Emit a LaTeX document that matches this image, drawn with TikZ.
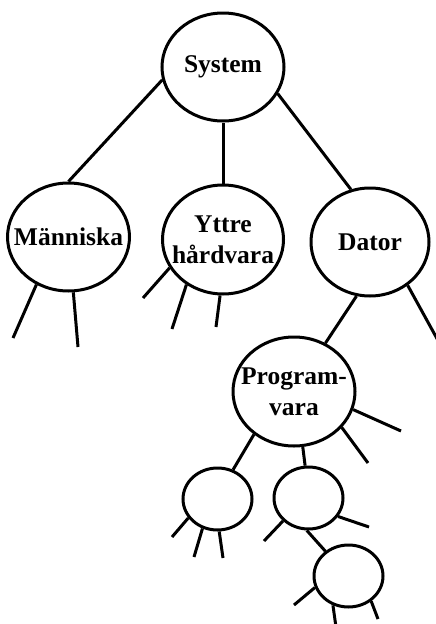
\documentclass[tikz,border=0pt]{standalone}
\usepackage{fontspec}
\setmainfont{Liberation Serif}
\usetikzlibrary{shapes.geometric}
\begin{document}
\begin{tikzpicture}[x=1pt,y=-1pt,line width=3pt,
  big/.style={draw,ellipse,inner sep=0pt,minimum width=122pt,minimum height=108pt},
  txt/.style={font=\fontsize{25.5}{31}\selectfont\bfseries,align=center,inner sep=0pt},
  small/.style={draw,ellipse,inner sep=0pt,minimum width=69pt,minimum height=62pt},
  link/.style={line cap=butt}]
\useasboundingbox (0,0) rectangle (436,624);
\clip (0,0) rectangle (436,624);
\node[big] (sys) at (223,67) {};
\node[big] (mann) at (68.5,237) {};
\node[big,minimum width=121pt,minimum height=109pt] (yt) at (223,239.5) {};
\node[big,minimum width=118pt] (dat) at (370,242) {};
\node[big,minimum height=109pt] (prog) at (294,391.5) {};
\node[txt] (tsys) at (sys) {System};
\node[txt] (tmann) at (mann) {Människa};
\node[txt] (tyt) at (yt) {Yttre\\hårdvara};
\node[txt] (tdat) at (dat) {Dator};
\node[txt] (tprog) at (prog) {Program-\\vara};
\node[small] (s1) at (217.5,499) {};
\node[small] (s2) at (308.5,498) {};
\node[small] (s3) at (348.5,576) {};
% free ends
\coordinate (m1) at (13,338);
\coordinate (m2) at (78,347);
\coordinate (y1) at (143,298);
\coordinate (y2) at (172,329);
\coordinate (y3) at (216,327);
\coordinate (d1) at (446,355);
\coordinate (p1) at (401,431);
\coordinate (p2) at (368,463);
\coordinate (a1) at (172,537);
\coordinate (a2) at (194,557);
\coordinate (a3) at (223,558);
\coordinate (b1) at (264,541);
\coordinate (b2) at (369,527);
\coordinate (c1) at (294,605);
\coordinate (c2) at (337,634);
\coordinate (c3) at (378,619);
% connectors
\draw[link] (sys.192) -- (mann.north);
\draw[link] (sys.south) -- (yt.north);
\draw[link] (sys.334) -- (dat.110);
\draw[link] (dat.256) -- (prog.57);
\draw[link] (dat.311) -- (d1);
\draw[link] (mann.236) -- (m1);
\draw[link] (mann.275) -- (m2);
\draw[link] (yt.208) -- (y1);
\draw[link] (yt.231) -- (y2);
\draw[link] (yt.267) -- (y3);
\draw[link] (prog.343) -- (p1);
\draw[link] (prog.323) -- (p2);
\draw[link] (prog.227) -- (s1.62);
\draw[link] (prog.279) -- (s2.96);
\draw[link] (s1.213) -- (a1);
\draw[link] (s1.243) -- (a2);
\draw[link] (s1.273) -- (a3);
\draw[link] (s2.222) -- (b1);
\draw[link] (s2.328) -- (b2);
\draw[link] (s2.267) -- (s3.133);
\draw[link] (s3.199) -- (c1);
\draw[link] (s3.242) -- (c2);
\draw[link] (s3.312) -- (c3);
\end{tikzpicture}
\end{document}
